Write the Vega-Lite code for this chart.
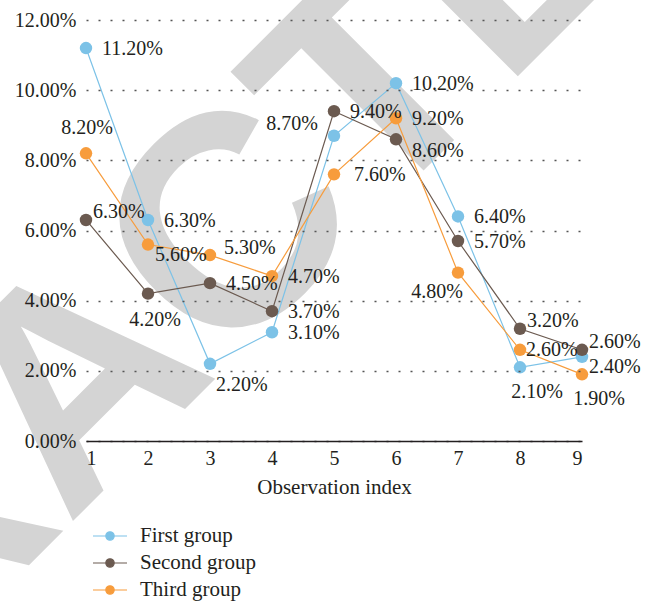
{
  "$schema": "https://vega.github.io/schema/vega-lite/v6.json",
  "autosize": {"type": "none"},
  "padding": {"left": 86, "top": 20, "right": 67, "bottom": 162},
  "width": 496,
  "height": 421,
  "background": "white",
  "datasets": {
    "main": [
      {"group": "First group", "x": 1, "v": 0.112},
      {"group": "First group", "x": 2, "v": 0.063},
      {"group": "First group", "x": 3, "v": 0.022},
      {"group": "First group", "x": 4, "v": 0.031},
      {"group": "First group", "x": 5, "v": 0.087},
      {"group": "First group", "x": 6, "v": 0.102},
      {"group": "First group", "x": 7, "v": 0.064},
      {"group": "First group", "x": 8, "v": 0.021},
      {"group": "First group", "x": 9, "v": 0.024},
      {"group": "Second group", "x": 1, "v": 0.063},
      {"group": "Second group", "x": 2, "v": 0.042},
      {"group": "Second group", "x": 3, "v": 0.045},
      {"group": "Second group", "x": 4, "v": 0.037},
      {"group": "Second group", "x": 5, "v": 0.094},
      {"group": "Second group", "x": 6, "v": 0.086},
      {"group": "Second group", "x": 7, "v": 0.057},
      {"group": "Second group", "x": 8, "v": 0.032},
      {"group": "Second group", "x": 9, "v": 0.026},
      {"group": "Third group", "x": 1, "v": 0.082},
      {"group": "Third group", "x": 2, "v": 0.056},
      {"group": "Third group", "x": 3, "v": 0.053},
      {"group": "Third group", "x": 4, "v": 0.047},
      {"group": "Third group", "x": 5, "v": 0.076},
      {"group": "Third group", "x": 6, "v": 0.092},
      {"group": "Third group", "x": 7, "v": 0.048},
      {"group": "Third group", "x": 8, "v": 0.026},
      {"group": "Third group", "x": 9, "v": 0.019}
    ],
    "mark": [
      {"x": 1.94, "v": -0.00251, "t": "RETRACTED"}
    ]
  },
  "config": {
    "view": {"stroke": null}
  },
  "layer": [
    {
      "data": {"name": "mark"},
      "mark": {"type": "text", "font": "Liberation Sans", "fontWeight": "bold", "fontSize": 300, "angle": -45, "align": "center", "baseline": "alphabetic", "fill": "#d4d4d4"},
      "encoding": {
        "x": {"field": "x", "type": "quantitative", "scale": {"domain": [1, 9], "nice": false, "zero": false}, "axis": {"values": [1,2,3,4,5,6,7,8,9], "format": "d", "grid": false, "ticks": false, "domain": true, "domainColor": "#231f20", "domainWidth": 1.5, "labelFont": "Liberation Serif", "labelFontSize": 20, "labelColor": "#231f20", "labelPadding": 7, "title": "Observation index", "titleFont": "Liberation Serif", "titleFontSize": 21, "titleFontWeight": "normal", "titleColor": "#231f20", "titlePadding": 8, "zindex": 1}},
        "y": {"field": "v", "type": "quantitative", "scale": {"domain": [0, 0.12], "nice": false}, "axis": {"values": [0, 0.02, 0.04, 0.06, 0.08, 0.1, 0.12], "format": ".2%", "grid": true, "gridDash": [2, 10], "gridColor": "#555555", "gridWidth": 1.3, "domain": false, "ticks": false, "labelFont": "Liberation Serif", "labelFontSize": 20, "labelColor": "#231f20", "labelPadding": 10, "title": null, "zindex": 1}},
        "text": {"field": "t", "type": "nominal"}
      }
    },
    {
      "data": {"name": "main"},
      "encoding": {
        "x": {"field": "x", "type": "quantitative"},
        "y": {"field": "v", "type": "quantitative"},
        "color": {
          "field": "group", "type": "nominal",
          "scale": {"domain": ["First group", "Second group", "Third group"], "range": ["#7cc2e7", "#6b5a50", "#f79c3c"]},
          "legend": {
            "title": null, "orient": "none", "legendX": 13, "legendY": 505, "direction": "vertical",
            "symbolType": "M-1.7,0H1.7M-0.42,0A0.42,0.42,0,1,0,0.42,0A0.42,0.42,0,1,0,-0.42,0Z",
            "symbolSize": 400, "symbolStrokeWidth": 1.2, "labelOffset": 19, "rowPadding": 6,
            "labelFont": "Liberation Serif", "labelFontSize": 21, "labelColor": "#231f20", "padding": 0,
            "encode": {"symbols": {"update": {"fill": {"scale": "color", "field": "value"}, "stroke": {"scale": "color", "field": "value"}, "opacity": {"value": 1}}}}
          }
        }
      },
      "layer": [
        {"mark": {"type": "line", "strokeWidth": 1.2}},
        {"mark": {"type": "point", "filled": true, "size": 155, "opacity": 1}},
        {
          "transform": [{"filter": "(datum.group=='First group' && indexof([1,2,4,6,7], datum.x)>=0) || (datum.group=='Second group' && indexof([3,4,5,7], datum.x)>=0) || (datum.group=='Third group' && indexof([4,6], datum.x)>=0)"}],
          "mark": {"type": "text", "font": "Liberation Serif", "fontSize": 20, "align": "left", "baseline": "middle", "dx": 16, "dy": 1},
          "encoding": {"text": {"field": "v", "type": "quantitative", "format": ".2%"}, "color": {"value": "#231f20"}}
        },
        {
          "transform": [{"filter": "datum.group=='Third group' && datum.x==5"}],
          "mark": {"type": "text", "font": "Liberation Serif", "fontSize": 20, "align": "left", "baseline": "middle", "dx": 20, "dy": 1},
          "encoding": {"text": {"field": "v", "type": "quantitative", "format": ".2%"}, "color": {"value": "#231f20"}}
        },
        {
          "transform": [{"filter": "datum.group=='Second group' && datum.x==6"}],
          "mark": {"type": "text", "font": "Liberation Serif", "fontSize": 20, "align": "left", "baseline": "middle", "dx": 16, "dy": 12},
          "encoding": {"text": {"field": "v", "type": "quantitative", "format": ".2%"}, "color": {"value": "#231f20"}}
        },
        {
          "transform": [{"filter": "datum.group=='Second group' && indexof([1,8,9], datum.x)>=0"}],
          "mark": {"type": "text", "font": "Liberation Serif", "fontSize": 20, "align": "left", "baseline": "middle", "dx": 7, "dy": -8},
          "encoding": {"text": {"field": "v", "type": "quantitative", "format": ".2%"}, "color": {"value": "#231f20"}}
        },
        {
          "transform": [{"filter": "datum.group=='Third group' && datum.x==3"}],
          "mark": {"type": "text", "font": "Liberation Serif", "fontSize": 20, "align": "left", "baseline": "middle", "dx": 14, "dy": -7},
          "encoding": {"text": {"field": "v", "type": "quantitative", "format": ".2%"}, "color": {"value": "#231f20"}}
        },
        {
          "transform": [{"filter": "datum.group=='Third group' && datum.x==8"}],
          "mark": {"type": "text", "font": "Liberation Serif", "fontSize": 20, "align": "left", "baseline": "middle", "dx": 6, "dy": 0},
          "encoding": {"text": {"field": "v", "type": "quantitative", "format": ".2%"}, "color": {"value": "#231f20"}}
        },
        {
          "transform": [{"filter": "(datum.group=='Third group' && datum.x==2) || (datum.group=='First group' && datum.x==9)"}],
          "mark": {"type": "text", "font": "Liberation Serif", "fontSize": 20, "align": "left", "baseline": "middle", "dx": 7, "dy": 10},
          "encoding": {"text": {"field": "v", "type": "quantitative", "format": ".2%"}, "color": {"value": "#231f20"}}
        },
        {
          "transform": [{"filter": "datum.group=='First group' && datum.x==3"}],
          "mark": {"type": "text", "font": "Liberation Serif", "fontSize": 20, "align": "left", "baseline": "middle", "dx": 6, "dy": 21},
          "encoding": {"text": {"field": "v", "type": "quantitative", "format": ".2%"}, "color": {"value": "#231f20"}}
        },
        {
          "transform": [{"filter": "(datum.group=='First group' && datum.x==8) || (datum.group=='Third group' && datum.x==9)"}],
          "mark": {"type": "text", "font": "Liberation Serif", "fontSize": 20, "align": "center", "baseline": "middle", "dx": 17, "dy": 25},
          "encoding": {"text": {"field": "v", "type": "quantitative", "format": ".2%"}, "color": {"value": "#231f20"}}
        },
        {
          "transform": [{"filter": "datum.group=='Second group' && datum.x==2"}],
          "mark": {"type": "text", "font": "Liberation Serif", "fontSize": 20, "align": "center", "baseline": "middle", "dx": 7, "dy": 26},
          "encoding": {"text": {"field": "v", "type": "quantitative", "format": ".2%"}, "color": {"value": "#231f20"}}
        },
        {
          "transform": [{"filter": "datum.group=='Third group' && datum.x==1"}],
          "mark": {"type": "text", "font": "Liberation Serif", "fontSize": 20, "align": "center", "baseline": "middle", "dx": 1, "dy": -25},
          "encoding": {"text": {"field": "v", "type": "quantitative", "format": ".2%"}, "color": {"value": "#231f20"}}
        },
        {
          "transform": [{"filter": "datum.group=='First group' && datum.x==5"}],
          "mark": {"type": "text", "font": "Liberation Serif", "fontSize": 20, "align": "right", "baseline": "middle", "dx": -16, "dy": -12},
          "encoding": {"text": {"field": "v", "type": "quantitative", "format": ".2%"}, "color": {"value": "#231f20"}}
        },
        {
          "transform": [{"filter": "datum.group=='Third group' && datum.x==7"}],
          "mark": {"type": "text", "font": "Liberation Serif", "fontSize": 20, "align": "center", "baseline": "middle", "dx": -21, "dy": 19},
          "encoding": {"text": {"field": "v", "type": "quantitative", "format": ".2%"}, "color": {"value": "#231f20"}}
        }
      ]
    }
  ]
}
